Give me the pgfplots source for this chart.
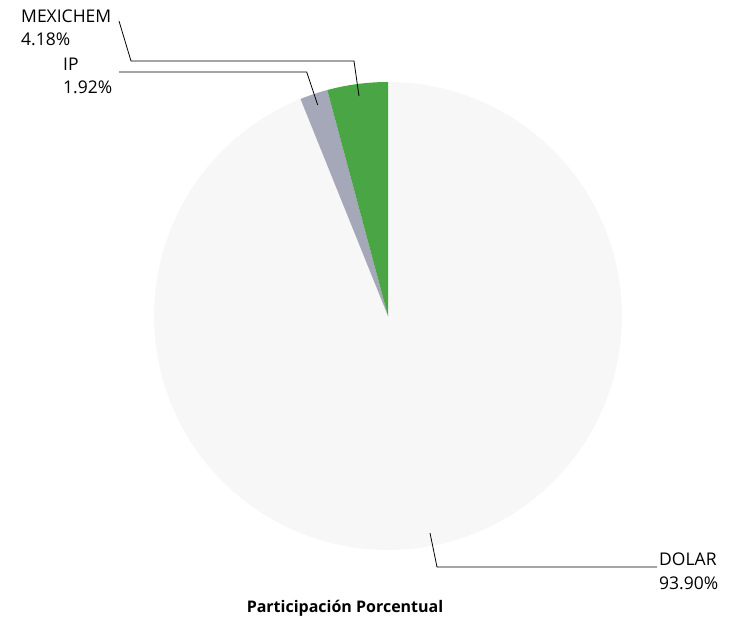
\documentclass[border=0pt]{standalone}
\usepackage{pgfplots}
\pgfplotsset{compat=1.18}
\usepackage{fontspec}
\setmainfont{Open Sans}

\definecolor{cMex}{RGB}{74,166,68}
\definecolor{cIP}{RGB}{165,168,184}
\definecolor{cDol}{RGB}{247,247,247}

% shares in percent
\def\pMex{4.18}
\def\pIP{1.92}
\def\pDol{93.90}

\tikzset{lbl/.style={anchor=base west, inner sep=0pt, font=\fontsize{17.5}{21}\selectfont}}

\begin{document}
\begin{tikzpicture}
\pgfmathsetmacro\aA{90}
\pgfmathsetmacro\aB{\aA+\pMex*3.6}
\pgfmathsetmacro\aC{\aB+\pIP*3.6}
\pgfmathsetmacro\aD{\aC+\pDol*3.6}
\begin{axis}[
    scale only axis, width=733pt, height=622pt,
    xmin=0, xmax=733, ymin=0, ymax=622,
    hide axis, clip=false,
]
% slices, centre (388,306), radius 234
\addplot[fill=cDol, draw=none, domain=\aC:\aD, samples=200, variable=\t]
    ({388+234*cos(\t)}, {306+234*sin(\t)}) -- (axis cs:388,306) -- cycle;
\addplot[fill=cIP, draw=none, domain=\aB:\aC, samples=10, variable=\t]
    ({388+234*cos(\t)}, {306+234*sin(\t)}) -- (axis cs:388,306) -- cycle;
\addplot[fill=cMex, draw=none, domain=\aA:\aB, samples=20, variable=\t]
    ({388+234*cos(\t)}, {306+234*sin(\t)}) -- (axis cs:388,306) -- cycle;

% leader lines
\draw[black, line width=0.8pt] (axis cs:119,601) -- (axis cs:131,561) -- (axis cs:354,561) -- (axis cs:359,526);
\draw[black, line width=0.8pt] (axis cs:119,550) -- (axis cs:306.7,550) -- (axis cs:317.7,517);
\draw[black, line width=0.8pt] (axis cs:430,89) -- (axis cs:437,55) -- (axis cs:657,55);

% labels
\node[lbl] at (axis cs:21,599) {MEXICHEM};
\node[lbl] at (axis cs:21,576) {\pMex\%};
\node[lbl] at (axis cs:63,551) {IP};
\node[lbl] at (axis cs:63,528) {\pIP\%};
\node[lbl] at (axis cs:659,57) {DOLAR};
\node[lbl] at (axis cs:659,33) {\pDol\%};

% title
\node[anchor=base, inner sep=0pt, font=\bfseries\fontsize{16}{19}\selectfont] at (axis cs:345,10) {Participación Porcentual};
\end{axis}
\path (current axis.south west) rectangle (current axis.north east);
\end{tikzpicture}
\end{document}
